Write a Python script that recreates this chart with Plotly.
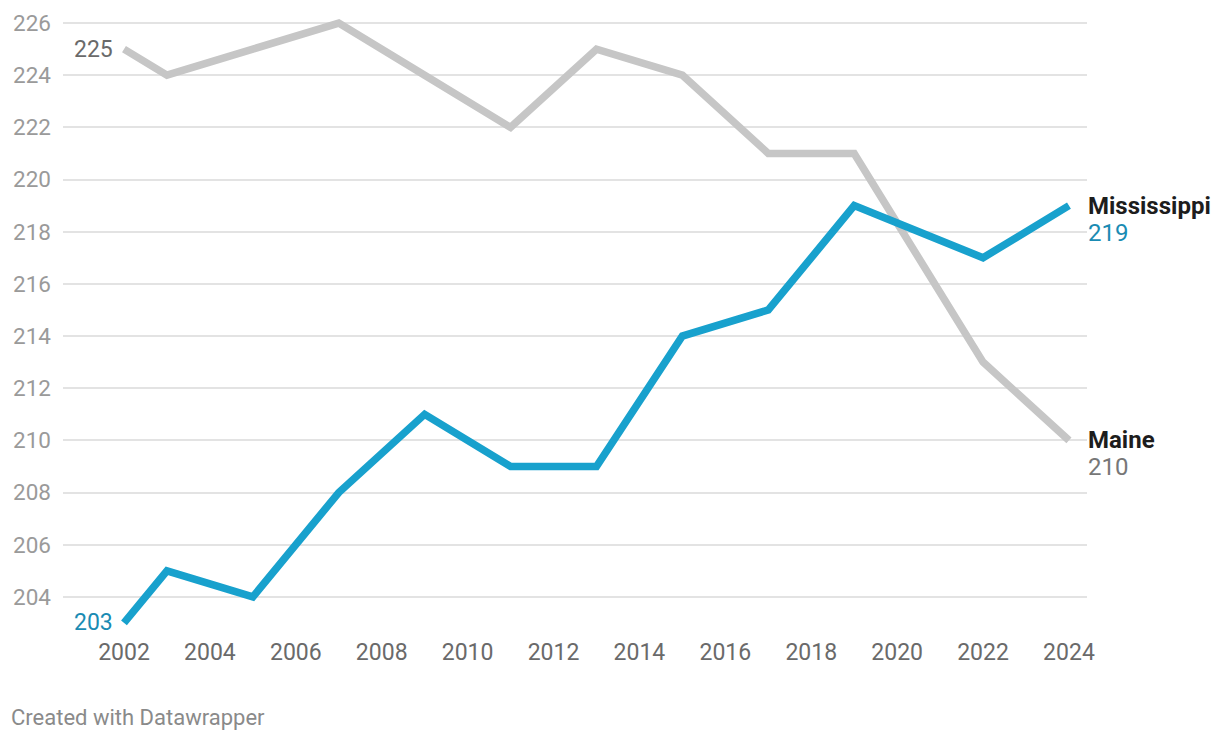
import plotly.graph_objects as go

years = [2002, 2003, 2005, 2007, 2009, 2011, 2013, 2015, 2017, 2019, 2022, 2024]
maine = [225, 224, 225, 226, 224, 222, 225, 224, 221, 221, 213, 210]
mississippi = [203, 205, 204, 208, 211, 209, 209, 214, 215, 219, 217, 219]
y_ticks = list(range(204, 227, 2))
x_ticks = list(range(2002, 2025, 2))

GRAY = "#c6c6c6"
BLUE = "#18a1cd"
BLUE_TXT = "#1a8bb3"
FONT = "Roboto"

fig = go.Figure()
fig.add_trace(go.Scatter(x=years, y=maine, mode="lines", line=dict(color=GRAY, width=7.5),
                         hoverinfo="skip", showlegend=False, cliponaxis=False))
fig.add_trace(go.Scatter(x=years, y=mississippi, mode="lines", line=dict(color=BLUE, width=7.5),
                         hoverinfo="skip", showlegend=False, cliponaxis=False))

# start labels
fig.add_annotation(x=years[0], y=maine[0], text=str(maine[0]), showarrow=False,
                   xanchor="right", xshift=-9, font=dict(family=FONT, size=23, color="#6a6a6a"))
fig.add_annotation(x=years[0], y=mississippi[0], text=str(mississippi[0]), showarrow=False,
                   xanchor="right", xshift=-9, font=dict(family=FONT, size=23, color=BLUE_TXT))
# end labels
fig.add_annotation(x=years[-1], y=mississippi[-1], text="<b>Mississippi</b>", showarrow=False,
                   xanchor="left", xshift=17, yshift=0, font=dict(family=FONT, size=24, color="#1d1d1d"))
fig.add_annotation(x=years[-1], y=mississippi[-1], text=str(mississippi[-1]), showarrow=False,
                   xanchor="left", xshift=17, yshift=-27, font=dict(family=FONT, size=24, color=BLUE_TXT))
fig.add_annotation(x=years[-1], y=maine[-1], text="<b>Maine</b>", showarrow=False,
                   xanchor="left", xshift=17, yshift=0, font=dict(family=FONT, size=24, color="#1d1d1d"))
fig.add_annotation(x=years[-1], y=maine[-1], text=str(maine[-1]), showarrow=False,
                   xanchor="left", xshift=17, yshift=-27, font=dict(family=FONT, size=24, color="#777777"))

fig.add_annotation(xref="paper", yref="paper", x=0, y=0, xshift=-54, yshift=-81,
                   text="Created with Datawrapper", showarrow=False, xanchor="left", yanchor="middle",
                   font=dict(family=FONT, size=22, color="#8a8a8a"))

fig.update_xaxes(range=[2000.58, 2024.42], tickvals=x_ticks, showgrid=False, zeroline=False,
                 showline=False, ticks="", ticklabelstandoff=0,
                 tickfont=dict(family=FONT, size=23, color="#6a6a6a"), fixedrange=True)
fig.update_yaxes(range=[202.5, 226.5], tickvals=y_ticks, showgrid=True, gridcolor="#e3e3e3",
                 gridwidth=1.5, zeroline=False, showline=False, ticks="", ticklabelstandoff=11,
                 tickfont=dict(family=FONT, size=22.5, color="#9a9a9a"), fixedrange=True)

fig.update_layout(width=1212, height=732, margin=dict(l=55, r=133, t=2, b=104),
                  plot_bgcolor="white", paper_bgcolor="white", font=dict(family=FONT))

fig.write_html("out.html")
